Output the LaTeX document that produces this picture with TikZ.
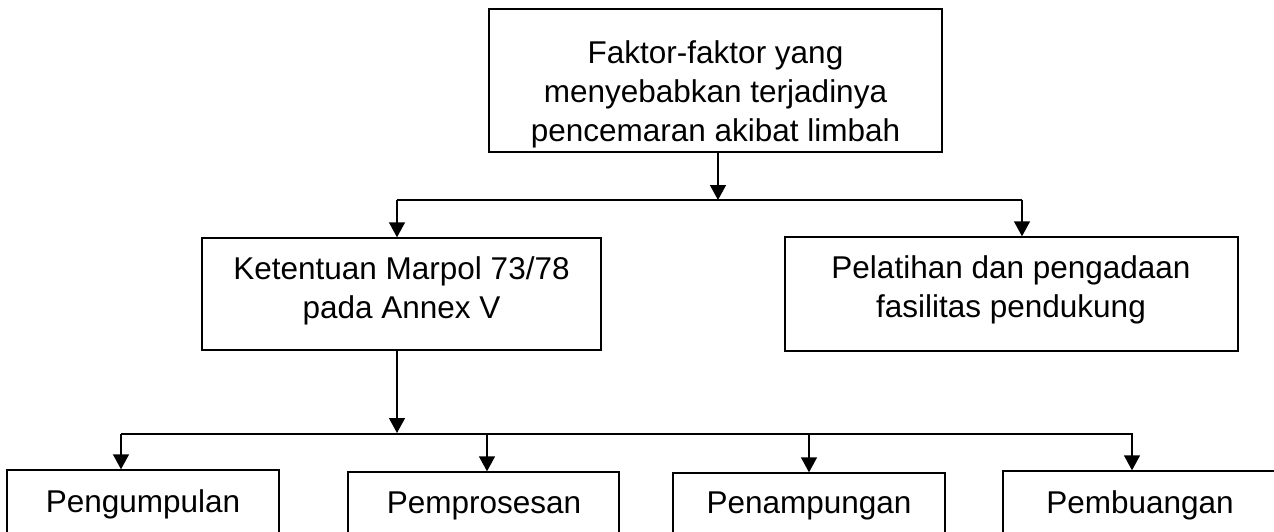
\documentclass[tikz,border=0pt]{standalone}
\usepackage{fontspec}
\setmainfont{Liberation Sans}
\usetikzlibrary{arrows.meta}
\begin{document}
\begin{tikzpicture}[x=1pt,y=-1pt,
  box/.style={draw, line width=1.4pt, inner sep=0pt},
  lbl/.style={font=\fontsize{31.5}{39}\selectfont, align=center, inner sep=0pt},
  arr/.style={line width=1.4pt, -{Triangle[length=15pt,width=16pt]}},
  bus/.style={line width=1.4pt}]
\useasboundingbox (0,0) rectangle (1274,532);
\clip (0,0) rectangle (1274,532);
% boxes
\node[box, minimum width=453pt, minimum height=143pt] (top) at (715.5,80.5) {};
\node[box, minimum width=399pt, minimum height=112pt] (kbox) at (401.5,294) {};
\node[box, minimum width=453pt, minimum height=114pt] (pbox) at (1011.5,294) {};
\node[box, minimum width=272pt, minimum height=130pt] (b1) at (143,535) {};
\node[box, minimum width=271pt, minimum height=130pt] (b2) at (483.5,537) {};
\node[box, minimum width=272pt, minimum height=130pt] (b3) at (809,538) {};
\node[box, minimum width=274pt, minimum height=130pt] (b4) at (1140,536) {};
% texts
\node[lbl] (ttop) at (715.5,94.5) {Faktor-faktor yang\\menyebabkan terjadinya\\pencemaran akibat limbah};
\node[lbl] (tk) at (401.5,290.5) {Ketentuan Marpol 73/78\\pada Annex V};
\node[lbl] (tp) at (1011,290) {Pelatihan dan pengadaan\\fasilitas pendukung};
\node[lbl, anchor=base] (t1) at (143,512) {Pengumpulan};
\node[lbl, anchor=base] (t2) at (484,513) {Pemprosesan};
\node[lbl, anchor=base] (t3) at (809,513) {Penampungan};
\node[lbl, anchor=base] (t4) at (1140,513) {Pembuangan};
% bus 1
\coordinate (s1M) at (718,200);
\coordinate (s1L) at (397,200);
\coordinate (s1R) at (1022,200);
\draw[arr] (top.south -| s1M) -- (s1M);
\draw[bus] (s1L) -- (s1R);
\draw[arr] (s1L) -- (kbox.north -| s1L);
\draw[arr] (s1R) -- (pbox.north -| s1R);
% bus 2
\coordinate (s2M) at (397,433);
\coordinate (s2L) at (121,434);
\coordinate (s2R) at (1133,434);
\coordinate (d1) at (121,434);
\coordinate (d2) at (487,434);
\coordinate (d3) at (809,434);
\coordinate (d4) at (1132,434);
\draw[arr] (kbox.south -| s2M) -- (s2M);
\draw[bus] (s2L) -- (s2R);
\draw[arr] (d1) -- (b1.north -| d1);
\draw[arr] (d2) -- (b2.north -| d2);
\draw[arr] (d3) -- (b3.north -| d3);
\draw[arr] (d4) -- (b4.north -| d4);
\end{tikzpicture}
\end{document}
